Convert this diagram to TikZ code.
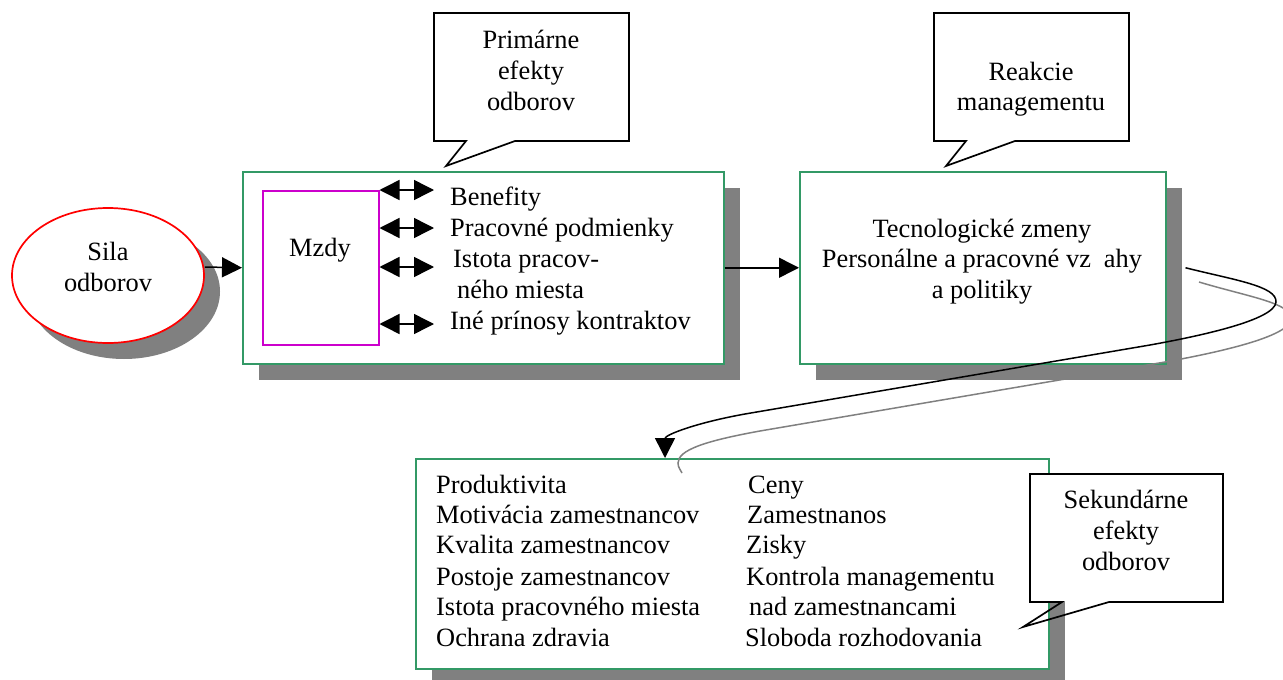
\documentclass[tikz,border=0pt]{standalone}
\usepackage{fontspec}
\setmainfont{Liberation Serif}
\usetikzlibrary{arrows.meta,shapes.geometric,shadows}
\definecolor{boxgreen}{RGB}{51,153,102}
\definecolor{shadowgray}{RGB}{128,128,128}
\definecolor{mzdycol}{RGB}{204,0,204}
\begin{document}
\begin{tikzpicture}[x=1pt,y=-1pt,
  txt/.style={font=\fontsize{26.4}{31}\selectfont, inner sep=0pt, anchor=base},
  ltxt/.style={txt, anchor=base west},
  boxshadow/.style={drop shadow={shadow xshift=16pt, shadow yshift=-16pt,
      shadow scale=1, fill=shadowgray, opacity=1}},
  greenbox/.style={draw=boxgreen, line width=1.5pt, fill=white, inner sep=0pt,
      anchor=north west, boxshadow},
  bubble/.style={draw=black, line width=1.7pt, line join=miter},
  arrowln/.style={-{Triangle[length=20pt,width=20pt]}, line width=1.5pt},
  darrow/.style={{Triangle[length=20pt,width=20pt]}-{Triangle[length=20pt,width=20pt]}, line width=1.5pt},
]
\useasboundingbox (0,0) rectangle (1283,680);
\clip (0,0) rectangle (1283,680);

% Union strength
\node[ellipse, draw=red, line width=1.7pt, fill=white, inner sep=0pt,
      minimum width=192pt, minimum height=135pt, boxshadow] (sila) at (108,275.5) {};
\node[txt] (silaA) at (108,260) {Sila};
\node[txt] (silaB) at (108,291) {odborov};

% Primary effects
\node[greenbox, minimum width=481pt, minimum height=192pt] (b1) at (242,171) {};
\node[draw=mzdycol, line width=1.5pt, fill=white, inner sep=0pt, anchor=north west,
      minimum width=116pt, minimum height=154pt] (mz) at (262,190) {};
\node[txt] (mzt) at (320,256) {Mzdy};

\node[ltxt] (i1) at (450,205) {Benefity};
\node[ltxt] (i2) at (450,236) {Pracovné podmienky};
\node[ltxt] (i3) at (453,267) {Istota pracov-};
\node[ltxt] (i3b) at (457,298) {ného miesta};
\node[ltxt] (i4) at (450,329) {Iné prínosy kontraktov};

\coordinate (a1) at (434,190);
\coordinate (a2) at (434,228);
\coordinate (a3) at (434,267);
\coordinate (a4) at (434,324);
\foreach \c in {a1,a2,a3,a4}
  \draw[darrow] (mz.east |- \c) -- (\c);

% Management reaction
\node[greenbox, minimum width=366pt, minimum height=192pt] (b2) at (799,171) {};
\node[txt] (r1) at (982,237) {Tecnologické zmeny};
\node[txt] (r2) at (982,267) {Personálne a pracovné vz\hspace{13pt}ahy};
\node[txt] (r3) at (982,298) {a politiky};

% Secondary effects
\node[greenbox, minimum width=633pt, minimum height=210pt] (b3) at (415,458) {};
\node[ltxt] (s1) at (436,493) {Produktivita};
\node[ltxt] (s2) at (436,523) {Motivácia zamestnancov};
\node[ltxt] (s3) at (436,553) {Kvalita zamestnancov};
\node[ltxt] (s4) at (436,585) {Postoje zamestnancov};
\node[ltxt] (s5) at (436,615) {Istota pracovného miesta};
\node[ltxt] (s6) at (436,646) {Ochrana zdravia};
\node[ltxt] (t1) at (748,493) {Ceny};
\node[ltxt] (t2) at (747,523) {Zamestnanos};
\node[ltxt] (t3) at (746,553) {Zisky};
\node[ltxt] (t4) at (746,585) {Kontrola managementu};
\node[ltxt] (t5) at (749,615) {nad zamestnancami};
\node[ltxt] (t6) at (745,646) {Sloboda rozhodovania};

% Flow arrows
\draw[arrowln] ([yshift=8.5pt]sila.east) -- (b1.west);
\draw[arrowln] (b1.east) -- (b2.west);

% Feedback curve with its shadow
\draw[draw=shadowgray, line width=1.5pt]
  (1199,282) .. controls (1249,297) and (1292,303) .. (1291,319)
  .. controls (1290,337) and (1215,353) .. (1165,362) -- (760,431)
  .. controls (705,441) and (678,450) .. (678,463)
  .. controls (678,468) and (681,470) .. (682,473);
\draw[arrowln]
  ([xshift=19pt]b2.east) .. controls (1234,280) and (1277,286) .. (1276,302)
  .. controls (1275,320) and (1200,336) .. (1150,345) -- (745,414)
  .. controls (695,423) and (665,435) .. ([xshift=250pt]b3.north west);

% Callouts
\draw[bubble, fill=white] (434,13) -- (629,13) -- (629,141) -- (515,141) -- (446,166)
  -- (466,141) -- (434,141) -- cycle;
\node[txt] (c1a) at (531,48) {Primárne};
\node[txt] (c1b) at (531,79) {efekty};
\node[txt] (c1c) at (531,110) {odborov};

\draw[bubble, fill=white] (934,13) -- (1129,13) -- (1129,141) -- (1015,141) -- (946,166)
  -- (966,141) -- (934,141) -- cycle;
\node[txt] (c2a) at (1031,80) {Reakcie};
\node[txt] (c2b) at (1031,110) {managementu};

\fill[white] (1030,474) rectangle (1223,602);
\draw[bubble] (1030,474) -- (1223,474) -- (1223,602) -- (1109,602) -- (1023,627)
  -- (1062,602) -- (1030,602) -- cycle;
\node[txt] (c3a) at (1126,508) {Sekundárne};
\node[txt] (c3b) at (1126,539) {efekty};
\node[txt] (c3c) at (1126,570) {odborov};
\end{tikzpicture}
\end{document}
